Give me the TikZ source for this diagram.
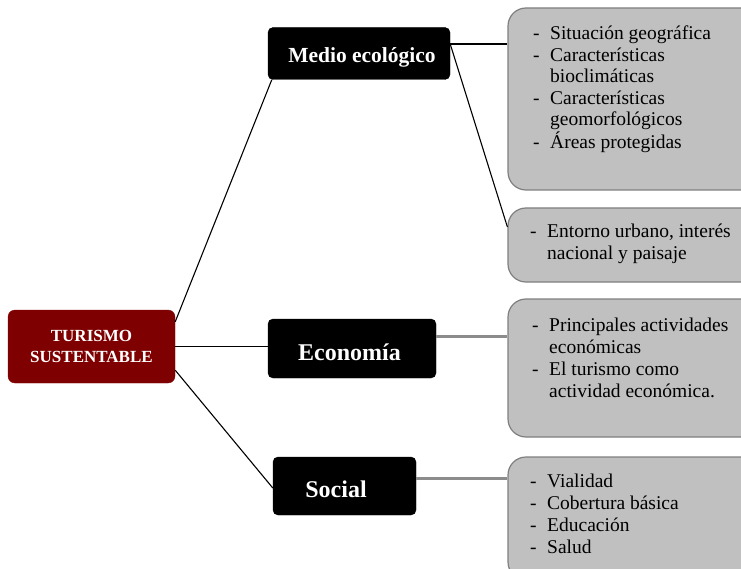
\documentclass[tikz,border=0pt]{standalone}
\usepackage{fontspec}
\setmainfont{Liberation Serif}
\usetikzlibrary{calc}
\definecolor{turred}{HTML}{7F0000}
\definecolor{boxgrey}{HTML}{C0C0C0}
\definecolor{boxedge}{HTML}{7F7F7F}
\definecolor{linkgrey}{HTML}{8C8C8C}
\begin{document}
\begin{tikzpicture}[x=1pt,y=-1pt,
  blackbox/.style={fill=black, draw=black, rounded corners=5pt, text=white, inner sep=0pt},
  rootbox/.style={fill=turred, draw=turred, rounded corners=7pt, text=white, inner sep=0pt, align=center,
     font=\fontsize{17}{21}\selectfont\bfseries},
  greybox/.style={fill=boxgrey, draw=boxedge, line width=1.2pt, rounded corners=18pt, inner sep=0pt,
     minimum width=262pt},
  listtext/.style={inner sep=0pt, anchor=base west},
  link/.style={draw=black, line width=1.1pt},
  greylink/.style={draw=linkgrey, line width=3pt}]
\useasboundingbox (0,0) rectangle (741,569);
\clip (0,0) rectangle (741,569);

% grey boxes
\node[greybox, minimum height=182pt] (b1) at (639,99) {};
\node[greybox, minimum height=74pt] (b2) at (639,245) {};
\node[greybox, minimum height=138pt] (b3) at (639,368) {};
\node[greybox, minimum height=123pt] (b4) at (639,518.5) {};

% texts of grey boxes
\node[listtext, font=\fontsize{19.5}{21.4}\selectfont] (t1) at (533,40)
 {\begin{tabular}[t]{@{}p{17pt}@{}l@{}}-& Situación geográfica\\ -& Características\\ & bioclimáticas\\ -& Características\\ & geomorfológicos\\ -& Áreas protegidas\end{tabular}};
\node[listtext, font=\fontsize{19.5}{22}\selectfont] (t2) at (530,238)
 {\begin{tabular}[t]{@{}p{17pt}@{}l@{}}-& Entorno urbano, interés\\ & nacional y paisaje\end{tabular}};
\node[listtext, font=\fontsize{19.5}{22.3}\selectfont] (t3) at (532,331)
 {\begin{tabular}[t]{@{}p{17pt}@{}l@{}}-& Principales actividades\\ & económicas\\ -& El turismo como\\ & actividad económica.\end{tabular}};
\node[listtext, font=\fontsize{19.5}{22}\selectfont] (t4) at (530,487)
 {\begin{tabular}[t]{@{}p{17pt}@{}l@{}}-& Vialidad\\ -& Cobertura básica\\ -& Educación\\ -& Salud\end{tabular}};

% main nodes
\node[rootbox, minimum width=167pt, minimum height=73pt] (tur) at (91.5,346.5) {TURISMO\\SUSTENTABLE};
\node[blackbox, minimum width=182pt, minimum height=52pt, font=\fontsize{21.5}{24}\selectfont\bfseries,
      text height=18pt, text depth=0pt] (med) at (359,53.5) {\hspace*{6pt}Medio ecológico};
\node[blackbox, minimum width=168pt, minimum height=59pt, font=\fontsize{24}{27}\selectfont\bfseries,
      text height=23pt, text depth=0pt] (eco) at (352,348.5) {Economía\hspace*{5pt}};
\node[blackbox, minimum width=143pt, minimum height=58pt, font=\fontsize{24}{27}\selectfont\bfseries,
      text height=22pt, text depth=0pt] (soc) at (344.5,486) {Social\hspace*{17pt}};

% connectors
\draw[link] ($(tur.north east)+(0,12)$) -- ($(med.south west)+(4,0)$);
\draw[link] (tur.east) -- (tur.east -| eco.west);
\draw[link] ($(tur.south east)+(0,-13)$) -- ($(soc.west)+(0,2)$);
\coordinate (mo) at ($(med.east)+(0,-9.5)$);
\draw[link] (mo) -- (mo -| b1.west);
\draw[link] (mo) -- ($(b2.west)+(0,-18)$);
\coordinate (eo) at ($(eco.east)+(0,-12.5)$);
\draw[greylink] (eo) -- (eo -| b3.west);
\coordinate (so) at ($(soc.east)+(0,-8)$);
\draw[greylink] (so) -- (so -| b4.west);
\end{tikzpicture}
\end{document}
